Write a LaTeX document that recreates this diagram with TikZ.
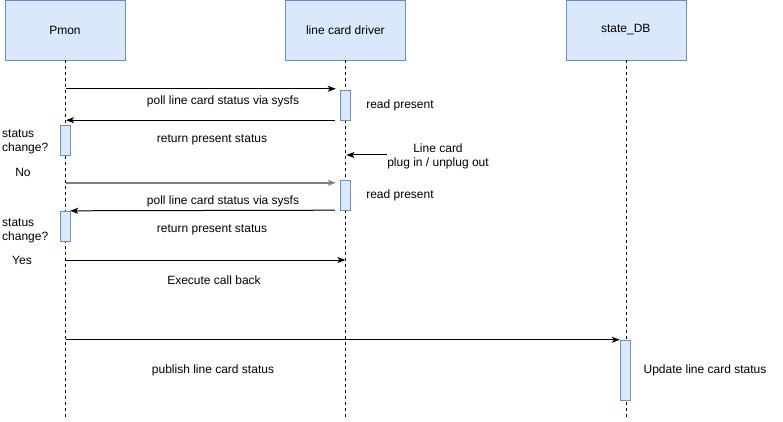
\documentclass[tikz,border=0pt]{standalone}
\usepackage{fontspec}
\setmainfont{Liberation Sans}
\usetikzlibrary{arrows.meta,positioning,calc}
\definecolor{boxfill}{HTML}{DAE8FC}
\definecolor{boxline}{HTML}{6C8EBF}
\definecolor{msggray}{HTML}{808080}
\tikzset{
  party/.style={draw=boxline,fill=boxfill,minimum width=120pt,minimum height=60pt,inner sep=0pt,font=\fontsize{12}{14}\selectfont},
  actbox/.style={draw=boxline,fill=boxfill,minimum width=10pt,inner sep=0pt},
  lifeline/.style={dash pattern=on 3pt off 3pt},
  msg/.style={-{Stealth[length=8pt,width=6pt,inset=2pt]}, line width=1pt},
  lbl/.style={font=\fontsize{12}{13.5}\selectfont, inner sep=0pt, align=center}
}

\begin{document}
\begin{tikzpicture}[x=1pt,y=-1pt]
  \useasboundingbox (0,0) rectangle (783,422);
  % participants
  \node[party] (pmon) at (65,30) {Pmon};
  \node[party, right=160pt of pmon] (drv) {line card driver};
  \node[party, right=160pt of drv] (db) {state\_DB};
  \draw[lifeline] (pmon.south) -- (pmon.south |- 0,420);
  \draw[lifeline] (drv.south) -- (drv.south |- 0,420);
  \draw[lifeline] (db.south) -- (db.south |- 0,420);
  % activations
  \node[actbox, minimum height=30pt] (rd1) at (345,105) {};
  \node[actbox, minimum height=30pt] (chk1) at (65,140) {};
  \node[actbox, minimum height=30pt] (rd2) at (345,195) {};
  \node[actbox, minimum height=30pt] (chk2) at (65,226) {};
  \node[actbox, minimum height=60pt] (upd) at (625,370) {};
  % first poll
  \draw[msg] ($(pmon.south |- rd1.north)+(1,-1)$) -- ([xshift=-4pt,yshift=1pt]rd1.north west);
  \node[lbl] (poll1) at (223,101) {poll line card status via sysfs};
  \node[lbl] (read1) at (400,105) {read present};
  \draw[msg] ([xshift=-5pt]rd1.south west) -- ($(pmon.south |- rd1.south)+(1,0)$);
  \node[lbl] (ret1) at (212,140) {return present status};
  \node[lbl, anchor=west, align=left] (sc1) at (2,142) {status\\change?};
  \node[lbl] (no) at (23,172) {No};
  % line card event
  \node[lbl] (plug) at (438,156.5) {Line card\\plug in / unplug out};
  \draw[msg] ([yshift=1.5pt]plug.west) -- ($(drv.south |- plug.west)+(1,-1.5)$);
  % second poll
  \draw[msg, draw=msggray, line width=1.8pt] ($(pmon.south |- rd2.north)+(1,3)$) -- ([xshift=-4pt,yshift=-3pt]rd2.north west);
  \node[lbl] (poll2) at (223,201) {poll line card status via sysfs};
  \node[lbl] (read2) at (400,195) {read present};
  \draw[msg] ([xshift=-5pt]rd2.south west) -- (chk2.north east);
  \node[lbl] (ret2) at (212,230) {return present status};
  \node[lbl, anchor=west, align=left] (sc2) at (2,231) {status\\change?};
  \node[lbl] (yes) at (22,260) {Yes};
  % call back
  \draw[msg] ($(pmon.south |- yes)+(1,0)$) -- (drv.south |- yes);
  \node[lbl] (cb) at (214,280) {Execute call back};
  % publish
  \draw[msg] ($(pmon.south |- upd.north)+(1,0)$) -- (upd.north west);
  \node[lbl] (pub) at (213,370) {publish line card status};
  \node[lbl] (updl) at (705,370) {Update line card status};
\end{tikzpicture}
\end{document}
